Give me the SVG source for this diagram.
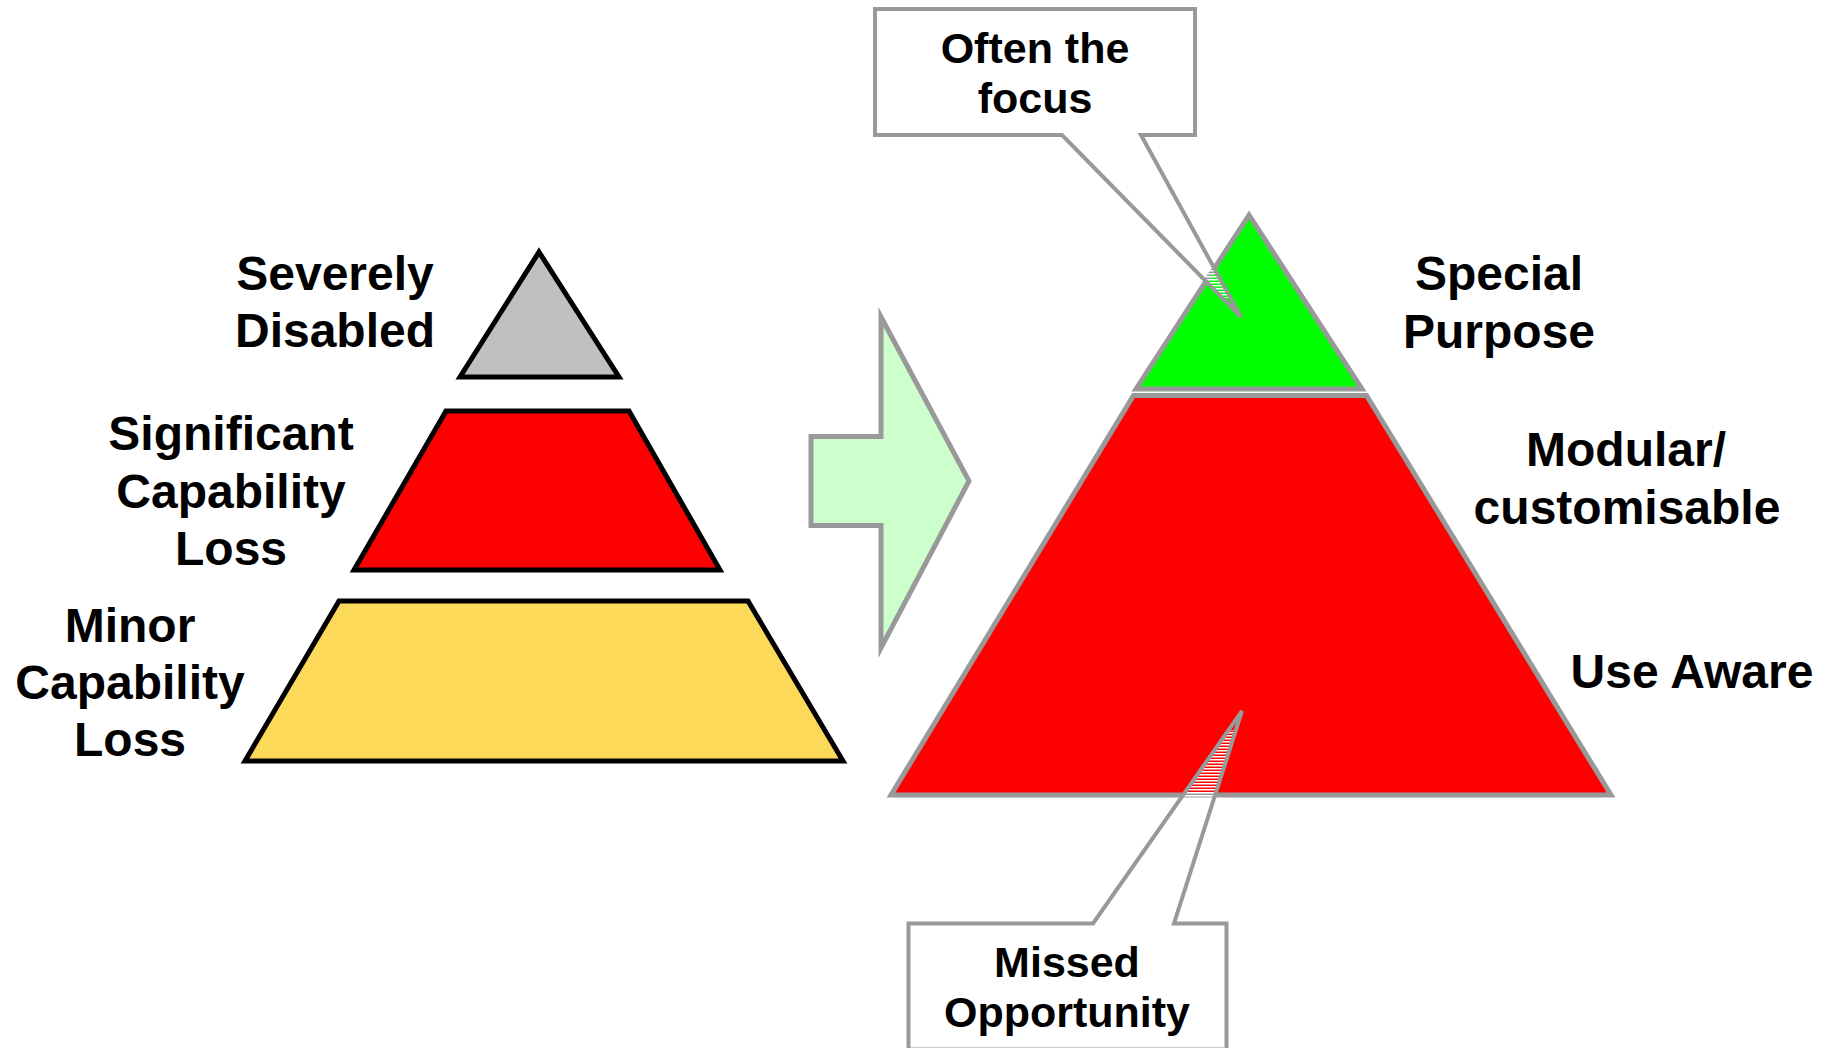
<svg xmlns="http://www.w3.org/2000/svg" width="1834" height="1048" viewBox="0 0 1834 1048">
  <style>
    .lbl { font-family: "Liberation Sans", Arial, sans-serif; font-weight: bold; font-size: 48px; fill: #000; text-anchor: middle; }
    .note { font-size: 43px; }
    .need { stroke: #000; stroke-width: 5; stroke-linejoin: miter; stroke-miterlimit: 10; }
    .prod { stroke: #999; stroke-width: 5; stroke-linejoin: miter; stroke-miterlimit: 10; }
    .callout { fill: none; stroke: #999; stroke-width: 4; stroke-linejoin: miter; }
  </style>
  <defs>
    <!-- white line shading seen where a callout tail crosses a shape -->
    <pattern id="hatch" x="0" y="0" width="4" height="3" patternUnits="userSpaceOnUse">
      <rect x="0" y="0" width="4" height="1.5" fill="#fff"/>
    </pattern>
  </defs>
  <rect width="1834" height="1048" fill="#fff"/>

  <!-- left pyramid: user needs -->
  <g id="severely-disabled">
    <polygon class="need" points="539,252 619,377 460,377" fill="#C0C0C0"/>
    <text class="lbl" x="335" y="290">Severely</text>
    <text class="lbl" x="335" y="347">Disabled</text>
  </g>
  <g id="significant-loss">
    <polygon class="need" points="446,411 629,411 720,570 354,570" fill="#FF0000"/>
    <text class="lbl" x="231" y="450">Significant</text>
    <text class="lbl" x="231" y="508">Capability</text>
    <text class="lbl" x="231" y="565">Loss</text>
  </g>
  <g id="minor-loss">
    <polygon class="need" points="339,601 748,601 843,761 245,761" fill="#FDD95A"/>
    <text class="lbl" x="130" y="642">Minor</text>
    <text class="lbl" x="130" y="699">Capability</text>
    <text class="lbl" x="130" y="756">Loss</text>
  </g>

  <!-- block arrow between the two pyramids -->
  <g id="arrow">
    <polygon class="prod" points="881,317 969,481 881,648 881,525.5 811,525.5 811,436.5 881,436.5" fill="#CCFFCC"/>
  </g>

  <!-- right pyramid: product types -->
  <g id="special-purpose">
    <polygon class="prod" points="1249,215 1362,389 1136,389" fill="#00FF00"/>
    <text class="lbl" x="1499" y="290">Special</text>
    <text class="lbl" x="1499" y="348">Purpose</text>
  </g>
  <g id="general-products">
    <polygon class="prod" points="1133.5,395.5 1366.5,395.5 1611,795 891,795" fill="#FF0000"/>
    <text class="lbl" x="1626" y="466">Modular/</text>
    <text class="lbl" x="1627" y="524">customisable</text>
    <text class="lbl" x="1692" y="688">Use Aware</text>
  </g>

  <!-- callouts -->
  <g id="connectors">
    <g id="callout-focus">
      <rect x="875" y="9" width="320" height="126" fill="#fff"/>
      <polygon points="1188.3,262 1211.2,262 1230.6,298 1223.6,298" fill="url(#hatch)"/>
      <path class="callout" d="M1062,135 H875 V9 H1195 V135 H1141 L1241,317 Z"/>
      <text class="lbl note" x="1035" y="63">Often the</text>
      <text class="lbl note" x="1035" y="113">focus</text>
    </g>
    <g id="callout-missed">
      <rect x="908.5" y="923.5" width="318" height="126" fill="#fff"/>
      <polygon points="1226.6,730 1235.3,730 1213.9,800 1179.9,800" fill="url(#hatch)"/>
      <path class="callout" d="M1093,923.5 H908.5 V1049.5 H1226.5 V923.5 H1174 L1242,711 Z"/>
      <text class="lbl note" x="1067" y="977">Missed</text>
      <text class="lbl note" x="1067" y="1027">Opportunity</text>
    </g>
  </g>
</svg>
